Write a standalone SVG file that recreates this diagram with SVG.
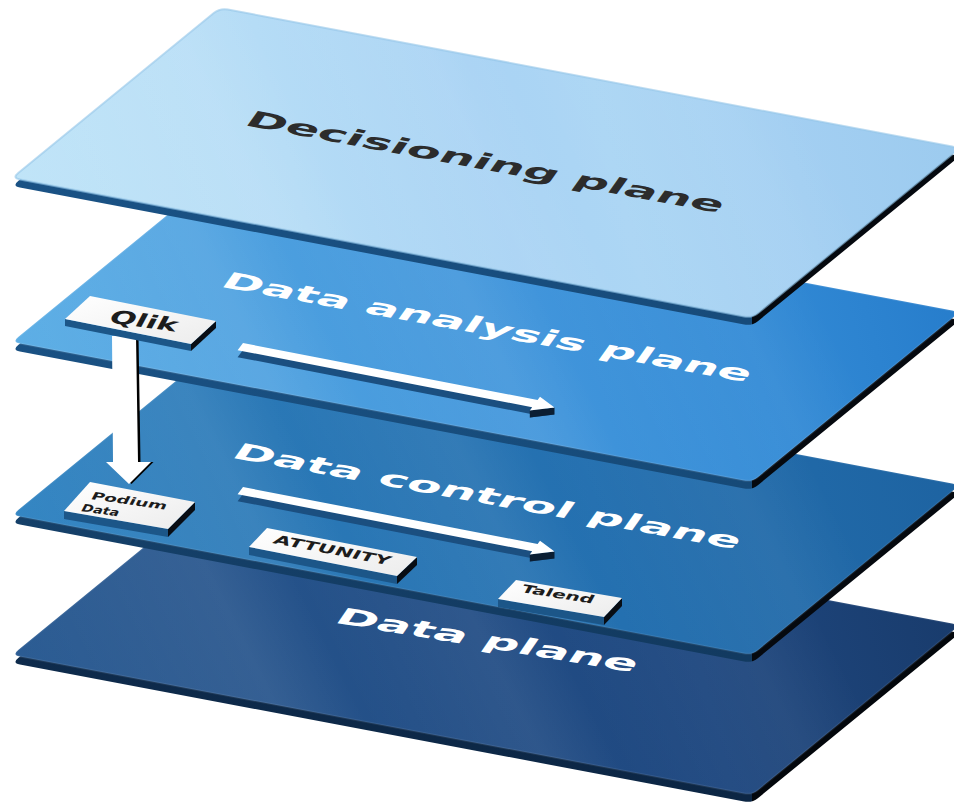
<svg xmlns="http://www.w3.org/2000/svg" xmlns:xlink="http://www.w3.org/1999/xlink" width="954" height="808" viewBox="0 0 954 808">
  <style>
    .lbl { font-family: "DejaVu Sans", "Liberation Sans", sans-serif; font-weight: bold; }
    .dark { fill: #2c2c2c; }
    .white { fill: #ffffff; }
    .boxtxt { font-family: "DejaVu Sans", "Liberation Sans", sans-serif; font-weight: bold; fill: #1c1c1c; }
    .boxTop { fill: url(#boxTopGrad); }
    .boxL { fill: #1c5688; }
    .boxR { fill: #080d14; }
    .arrTop { fill: #ffffff; }
    .arrSide { fill: #1b4f80; }
    .arrDark { fill: #0b1e33; }
    .sheen { fill: url(#sheen); }
  </style>
  <defs>
    <path id="slab" d="M227.86,9.49 L952.14,146.51 Q960,148 953.8,153.06 L758.2,312.94 Q752,318 744.14,316.51 L19.86,179.49 Q12,178 18.2,172.94 L213.8,13.06 Q220,8 227.86,9.49 Z"/>
    <linearGradient id="top1" gradientUnits="userSpaceOnUse" x1="12" y1="260" x2="960" y2="20">
      <stop offset="0" stop-color="#c1e5f8"/>
      <stop offset="0.3" stop-color="#b5dcf6"/>
      <stop offset="0.5" stop-color="#a9d3f4"/>
      <stop offset="0.62" stop-color="#acd6f4"/>
      <stop offset="0.8" stop-color="#a3cff2"/>
      <stop offset="1" stop-color="#9bcaee"/>
    </linearGradient>
    <linearGradient id="top2" gradientUnits="userSpaceOnUse" x1="12" y1="260" x2="960" y2="20">
      <stop offset="0" stop-color="#5fb0e6"/>
      <stop offset="0.3" stop-color="#4c9fdf"/>
      <stop offset="0.55" stop-color="#4195db"/>
      <stop offset="0.75" stop-color="#338bd6"/>
      <stop offset="1" stop-color="#257bca"/>
    </linearGradient>
    <linearGradient id="top3" gradientUnits="userSpaceOnUse" x1="12" y1="260" x2="960" y2="20">
      <stop offset="0" stop-color="#3587c4"/>
      <stop offset="0.3" stop-color="#2a78b6"/>
      <stop offset="0.6" stop-color="#2470b0"/>
      <stop offset="1" stop-color="#1d62a0"/>
    </linearGradient>
    <linearGradient id="top4" gradientUnits="userSpaceOnUse" x1="12" y1="260" x2="960" y2="20">
      <stop offset="0" stop-color="#2c5d94"/>
      <stop offset="0.4" stop-color="#234f87"/>
      <stop offset="0.7" stop-color="#1f4880"/>
      <stop offset="1" stop-color="#183a6a"/>
    </linearGradient>
    <linearGradient id="sheen" gradientUnits="userSpaceOnUse" x1="60" y1="260" x2="900" y2="-160">
      <stop offset="0" stop-color="#ffffff" stop-opacity="0"/>
      <stop offset="0.22" stop-color="#ffffff" stop-opacity="0.07"/>
      <stop offset="0.3" stop-color="#ffffff" stop-opacity="0"/>
      <stop offset="0.45" stop-color="#ffffff" stop-opacity="0.06"/>
      <stop offset="0.52" stop-color="#ffffff" stop-opacity="0"/>
      <stop offset="0.7" stop-color="#ffffff" stop-opacity="0.05"/>
      <stop offset="0.78" stop-color="#ffffff" stop-opacity="0"/>
      <stop offset="1" stop-color="#ffffff" stop-opacity="0"/>
    </linearGradient>
    <linearGradient id="side1" gradientUnits="userSpaceOnUse" x1="12" y1="0" x2="960" y2="0">
      <stop offset="0" stop-color="#1a5285"/>
      <stop offset="0.7806" stop-color="#174b7a"/>
      <stop offset="0.7806" stop-color="#05090f"/>
      <stop offset="1" stop-color="#05090f"/>
    </linearGradient>
    <linearGradient id="side2" gradientUnits="userSpaceOnUse" x1="12" y1="0" x2="960" y2="0">
      <stop offset="0" stop-color="#1a5183"/>
      <stop offset="0.7806" stop-color="#164a78"/>
      <stop offset="0.7806" stop-color="#05090f"/>
      <stop offset="1" stop-color="#05090f"/>
    </linearGradient>
    <linearGradient id="side3" gradientUnits="userSpaceOnUse" x1="12" y1="0" x2="960" y2="0">
      <stop offset="0" stop-color="#154069"/>
      <stop offset="0.7806" stop-color="#123a60"/>
      <stop offset="0.7806" stop-color="#05090f"/>
      <stop offset="1" stop-color="#05090f"/>
    </linearGradient>
    <linearGradient id="side4" gradientUnits="userSpaceOnUse" x1="12" y1="0" x2="960" y2="0">
      <stop offset="0" stop-color="#0e2b4c"/>
      <stop offset="0.7806" stop-color="#0c2644"/>
      <stop offset="0.7806" stop-color="#03070c"/>
      <stop offset="1" stop-color="#03070c"/>
    </linearGradient>
    <linearGradient id="boxTopGrad" x1="0" y1="0" x2="1" y2="1">
      <stop offset="0" stop-color="#ffffff"/>
      <stop offset="1" stop-color="#ececec"/>
    </linearGradient>
  </defs>

  <rect width="954" height="808" fill="#ffffff"/>

  <!-- Planes (bottom to top) -->
  <g id="plane-data">
    <g transform="translate(0,477)">
      <use xlink:href="#slab" transform="translate(0,8)" fill="url(#side4)"/>
      <use xlink:href="#slab" fill="url(#top4)" stroke="#ffffff" stroke-opacity="0.08" stroke-width="2"/>
      <use xlink:href="#slab" class="sheen"/>
    </g>
    <text class="lbl white" font-size="48" textLength="304" lengthAdjust="spacingAndGlyphs" transform="translate(333,622.5) rotate(9.4) skewX(-25) scale(1,0.48)">Data plane</text>
  </g>

  <g id="plane-data-control">
    <g transform="translate(0,337)">
      <use xlink:href="#slab" transform="translate(0,8)" fill="url(#side3)"/>
      <use xlink:href="#slab" fill="url(#top3)" stroke="#ffffff" stroke-opacity="0.08" stroke-width="2"/>
      <use xlink:href="#slab" class="sheen"/>
    </g>
    <text class="lbl white" font-size="48" textLength="514" lengthAdjust="spacingAndGlyphs" transform="translate(230,457.5) rotate(10.27) skewX(-25) scale(1,0.48)">Data control plane</text>
  </g>

  <g id="plane-data-analysis">
    <g transform="translate(0,164)">
      <use xlink:href="#slab" transform="translate(0,8)" fill="url(#side2)"/>
      <use xlink:href="#slab" fill="url(#top2)" stroke="#ffffff" stroke-opacity="0.1" stroke-width="2"/>
      <use xlink:href="#slab" class="sheen"/>
    </g>
    <text class="lbl white" font-size="48" textLength="536" lengthAdjust="spacingAndGlyphs" transform="translate(219,286.5) rotate(10.28) skewX(-25) scale(1,0.48)">Data analysis plane</text>
  </g>

  <g id="plane-decisioning">
    <use xlink:href="#slab" transform="translate(0,8)" fill="url(#side1)"/>
    <use xlink:href="#slab" fill="url(#top1)" stroke="#93c4e8" stroke-opacity="0.6" stroke-width="2"/>
    <use xlink:href="#slab" class="sheen"/>
    <text class="lbl dark" font-size="48" textLength="484" lengthAdjust="spacingAndGlyphs" transform="translate(243,125) rotate(10.47) skewX(-25) scale(1,0.47)">Decisioning plane</text>
  </g>

  <!-- Connectors -->
  <g id="connectors">
    <g id="arrow-analysis">
      <polygon class="arrSide" transform="translate(0,7)" points="243,343 537.6,400 540,396.8 554.5,407.4 529.8,410.4 532.2,407.2 237.6,350.2"/>
      <polygon class="arrDark" points="529.8,410.4 554.5,407.4 554.5,414.4 529.8,417.4"/>
      <polygon class="arrTop" points="243,343 537.6,400 540,396.8 554.5,407.4 529.8,410.4 532.2,407.2 237.6,350.2"/>
    </g>
    <g id="arrow-control">
      <polygon class="arrSide" transform="translate(0,151)" points="243,343 537.6,400 540,396.8 554.5,407.4 529.8,410.4 532.2,407.2 237.6,350.2"/>
      <polygon class="arrDark" transform="translate(0,144)" points="529.8,410.4 554.5,407.4 554.5,414.4 529.8,417.4"/>
      <polygon class="arrTop" transform="translate(0,144)" points="243,343 537.6,400 540,396.8 554.5,407.4 529.8,410.4 532.2,407.2 237.6,350.2"/>
    </g>
    <g id="arrow-qlik-podium">
      <polygon fill="#000000" transform="translate(2.5,0)" points="112,336 136,336 138,462 151,462 129,484 106,462 113,462"/>
      <polygon fill="#ffffff" points="112,336 136,336 138,462 151,462 129,484 106,462 113,462"/>
    </g>
  </g>

  <!-- Tool boxes -->
  <g id="box-qlik">
    <polygon class="boxL" points="65,319 191,344 191,351 65,326"/>
    <polygon class="boxR" points="191,344 216,321 216,328 191,351"/>
    <polygon class="boxTop" points="90,296 216,321 191,344 65,319"/>
    <text class="boxtxt" font-size="31" text-anchor="middle" textLength="68" lengthAdjust="spacingAndGlyphs" transform="translate(141,327) rotate(8) skewX(-20) scale(1,0.6)">Qlik</text>
  </g>

  <g id="box-podium">
    <polygon class="boxL" points="64,511 168,529 168,537 64,519"/>
    <polygon class="boxR" points="168,529 195,502 195,510 168,537"/>
    <polygon class="boxTop" points="90,482 195,502 168,529 64,511"/>
    <text class="boxtxt" font-size="17" textLength="76" lengthAdjust="spacingAndGlyphs" transform="translate(90,499) rotate(8) skewX(-20) scale(1,0.62)">Podium</text>
    <text class="boxtxt" font-size="17" textLength="38" lengthAdjust="spacingAndGlyphs" transform="translate(80,511) rotate(8) skewX(-20) scale(1,0.62)">Data</text>
  </g>

  <g id="box-attunity">
    <polygon class="boxL" points="249,547 397,576 397,584 249,555"/>
    <polygon class="boxR" points="397,576 417,557 417,565 397,584"/>
    <polygon class="boxTop" points="267,528 417,557 397,576 249,547"/>
    <text class="boxtxt" font-size="21" textLength="118" lengthAdjust="spacingAndGlyphs" transform="translate(272,543) rotate(10.8) skewX(-20) scale(1,0.6)">ATTUNITY</text>
  </g>

  <g id="box-talend">
    <polygon class="boxL" points="498,599 604,617 604,625 498,607"/>
    <polygon class="boxR" points="604,617 622,598 622,606 604,625"/>
    <polygon class="boxTop" points="516,580 622,598 604,617 498,599"/>
    <text class="boxtxt" font-size="19" textLength="73" lengthAdjust="spacingAndGlyphs" transform="translate(520,592) rotate(9) skewX(-20) scale(1,0.6)">Talend</text>
  </g>
</svg>
